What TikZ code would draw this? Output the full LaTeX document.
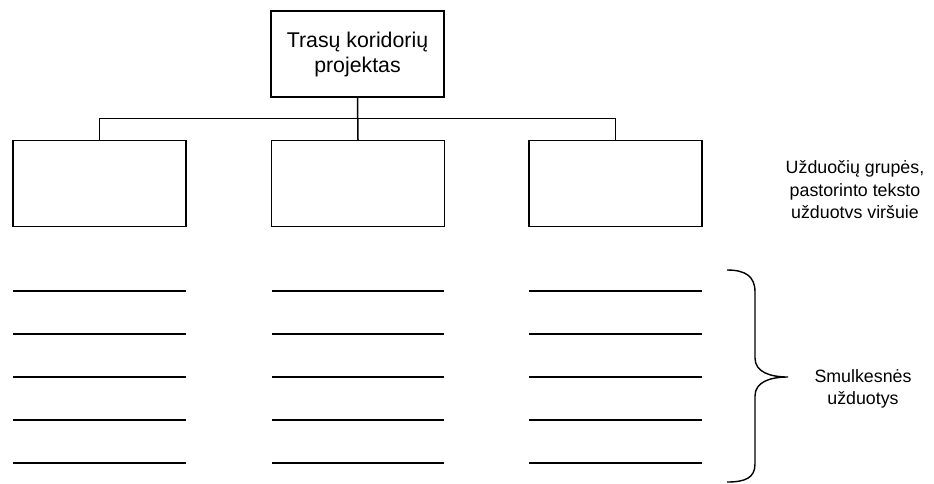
\documentclass[tikz,border=0pt]{standalone}
\usepackage{fontspec}
\setmainfont{Liberation Sans}
\begin{document}
\begin{tikzpicture}[x=1pt,y=-1pt,
  box/.style={draw,line width=1.4pt,minimum width=173pt,minimum height=86pt,inner sep=0pt,align=center},
  conn/.style={line width=1.5pt},
  slot/.style={line width=1.6pt},
  lbl/.style={align=center,font=\fontsize{17.8}{22.5}\selectfont}]
\useasboundingbox (0,0) rectangle (934,483);
\node[box,font=\fontsize{21.3}{25}\selectfont] (top) at (357.5,54) {Trasų koridorių\\projektas};
\node[box] (b1) at (99.5,183.5) {};
\node[box] (b2) at (358,183.5) {};
\node[box] (b3) at (615.5,183.5) {};
\coordinate (bus) at (0,118.5);
\draw[conn] (top.south) -- (b2.north);
\draw[conn] (b1.north) -- (b1.north |- bus) -- (b3.north |- bus) -- (b3.north);
\foreach \y in {291,334,377,420,463}{
  \draw[slot] (13,\y) -- (186,\y);
  \draw[slot] (272,\y) -- (444,\y);
  \draw[slot] (529,\y) -- (702,\y);
}
\draw[line width=1.4pt] (727,270) .. controls (745,270) and (755,276) .. (755,292) -- (755,358)
  .. controls (755,372) and (770,377) .. (788,377)
  .. controls (770,377) and (755,382) .. (755,396) -- (755,464)
  .. controls (755,478) and (745,482) .. (727,482);
\node[lbl] (groups) at (855,190) {Užduočių grupės,\\pastorinto teksto\\užduotvs viršuie};
\node[lbl] (small) at (863,389) {Smulkesnės\\užduotys};
\end{tikzpicture}
\end{document}
